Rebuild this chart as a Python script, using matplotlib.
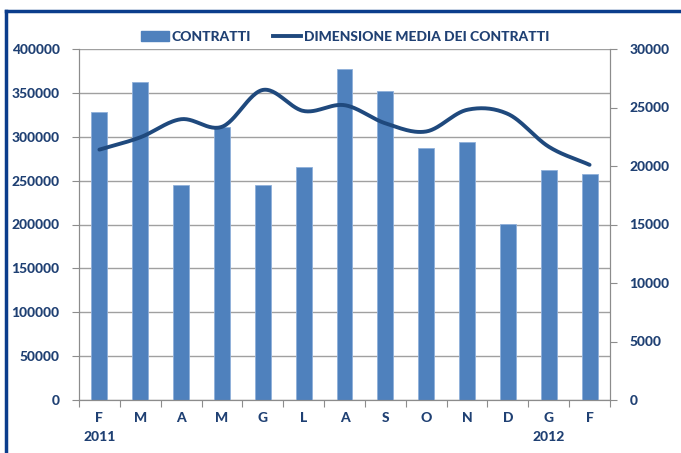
import matplotlib.pyplot as plt
import numpy as np
from matplotlib.lines import Line2D
from matplotlib.patches import Patch

mesi = ['F', 'M', 'A', 'M', 'G', 'L', 'A', 'S', 'O', 'N', 'D', 'G', 'F']
anni = {0: '2011', 11: '2012'}
contratti = [328000, 362000, 245000, 311000, 245000, 265000, 377000,
             352000, 287000, 294000, 200500, 262000, 257500]
dimensione_media = [21400, 22450, 24000, 23350, 26500, 24700, 25200,
                    23650, 22950, 24800, 24450, 21650, 20100]

blu_barre = '#4f81bd'
blu_linea = '#1f497d'
blu_testo = '#1f4073'
grigio = '#8c8c8c'


def curva_smussata(x, y, passi=30):
    # spline tipo Catmull-Rom, come lo smussamento delle linee di Excel
    x = np.asarray(x, float)
    y = np.asarray(y, float)
    px = np.concatenate([[2 * x[0] - x[1]], x, [2 * x[-1] - x[-2]]])
    py = np.concatenate([[2 * y[0] - y[1]], y, [2 * y[-1] - y[-2]]])
    xs, ys = [], []
    t = np.linspace(0, 1, passi)
    for i in range(1, len(px) - 2):
        for p, out in ((px, xs), (py, ys)):
            p0, p1, p2, p3 = p[i - 1], p[i], p[i + 1], p[i + 2]
            c1 = p1 + (p2 - p0) / 6
            c2 = p2 - (p3 - p1) / 6
            out.extend((1 - t) ** 3 * p1 + 3 * (1 - t) ** 2 * t * c1
                       + 3 * (1 - t) * t ** 2 * c2 + t ** 3 * p2)
    return np.array(xs), np.array(ys)


plt.rcParams['font.family'] = 'Lato'
plt.rcParams['font.weight'] = 'black'

figura = plt.figure(figsize=(6.81, 4.53), dpi=100)
eixo = figura.add_axes([79 / 681, 1 - 400 / 453, 531 / 681, 351 / 453])
eixo2 = eixo.twinx()

x = np.arange(len(mesi))
eixo.bar(x, contratti, width=0.39, color=blu_barre, edgecolor='#8fb0da',
         linewidth=0.6, zorder=2)
eixo.set_xlim(-0.5, len(mesi) - 0.5)
eixo.set_ylim(0, 400000)
eixo.set_yticks(np.arange(0, 400001, 50000))
eixo.grid(axis='y', color='#a0a0a0', linewidth=1, zorder=0)
eixo.set_axisbelow(True)

cx, cy = curva_smussata(x, dimensione_media)
eixo2.plot(cx, cy, color=blu_linea, linewidth=2.8, solid_capstyle='round')
eixo2.set_ylim(0, 30000)
eixo2.set_yticks(np.arange(0, 30001, 5000))

eixo.set_xticks(np.arange(-0.5, len(mesi), 1))
eixo.set_xticklabels([])
eixo.tick_params(axis='x', direction='out', length=5, color=grigio)
for i, m in enumerate(mesi):
    eixo.text(i, -0.05, m, transform=eixo.get_xaxis_transform(),
              ha='center', va='center', fontsize=10, color=blu_testo)
for i, a in anni.items():
    eixo.text(i, -0.105, a, transform=eixo.get_xaxis_transform(),
              ha='center', va='center', fontsize=10, color=blu_testo)

for e in (eixo, eixo2):
    e.spines['top'].set_visible(False)
    for lado in ('left', 'right', 'bottom'):
        e.spines[lado].set_color(grigio)
    e.tick_params(axis='y', direction='out', length=5, color=grigio,
                  labelsize=10, labelcolor=blu_testo, pad=9)

figura.legend(handles=[Patch(color=blu_barre, label='CONTRATTI'),
                       Line2D([], [], color=blu_linea, linewidth=2.8,
                              label='DIMENSIONE MEDIA DEI CONTRATTI')],
              loc='center', bbox_to_anchor=(345 / 681, 1 - 37 / 453), ncol=2,
              frameon=False, fontsize=10, labelcolor=blu_testo,
              handlelength=2.0, handletextpad=0.2, columnspacing=1.6)

cornice = '#0b3d8c'
figura.add_artist(Line2D([6 / 681, 1], [1 - 11 / 453] * 2, color=cornice,
                         linewidth=2.5, transform=figura.transFigure))
figura.add_artist(Line2D([6 / 681] * 2, [0, 1 - 11 / 453], color=cornice,
                         linewidth=2.5, transform=figura.transFigure))

figura.savefig('out.png', dpi=100)
